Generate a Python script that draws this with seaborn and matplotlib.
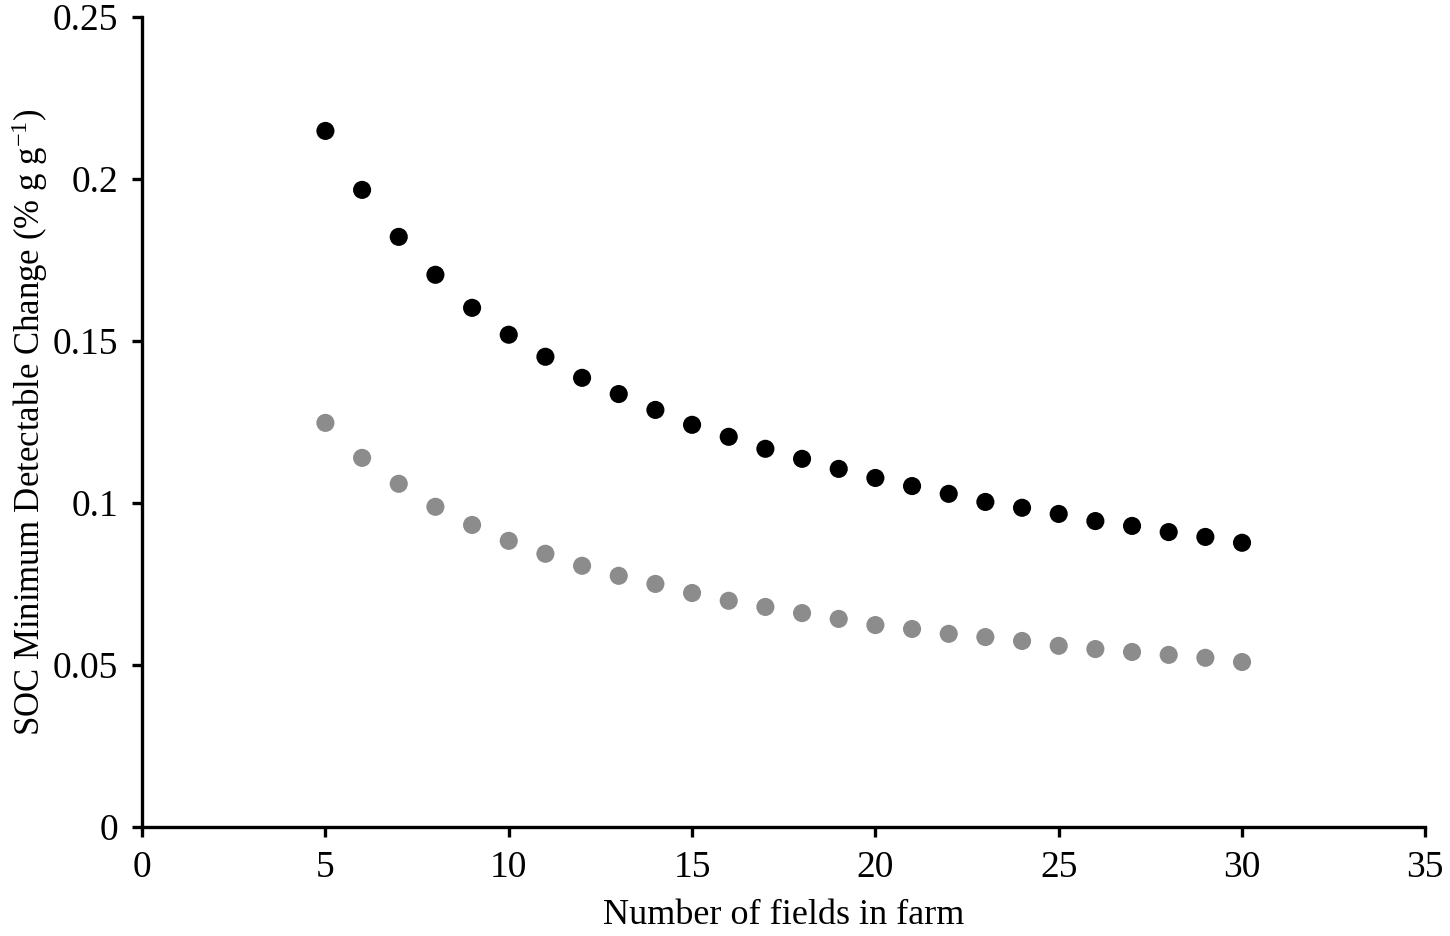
import numpy as np
import pandas as pd
import matplotlib
matplotlib.use("Agg")
import matplotlib.pyplot as plt
import seaborn as sns

# number of fields in farm
fields = list(range(5, 31))

# minimum detectable change, two series (black / gray)
mdc_black = [0.2148, 0.1966, 0.1821, 0.1704, 0.1602, 0.1519, 0.1451, 0.1386,
             0.1336, 0.1287, 0.1241, 0.1204, 0.1167, 0.1136, 0.1105, 0.1077,
             0.1052, 0.1028, 0.1003, 0.0985, 0.0966, 0.0944, 0.0929, 0.0910,
             0.0895, 0.0877]
mdc_gray = [0.1247, 0.1139, 0.1059, 0.0988, 0.0932, 0.0883, 0.0843, 0.0806,
            0.0775, 0.0750, 0.0722, 0.0698, 0.0679, 0.0660, 0.0642, 0.0623,
            0.0611, 0.0596, 0.0586, 0.0574, 0.0559, 0.0549, 0.0540, 0.0531,
            0.0522, 0.0509]

df = pd.DataFrame({
    "fields": fields * 2,
    "mdc": mdc_black + mdc_gray,
    "series": ["black"] * len(fields) + ["gray"] * len(fields),
})

sns.set_style("ticks")
plt.rcParams['font.family'] = ['Liberation Serif', 'DejaVu Serif']
plt.rcParams['mathtext.fontset'] = 'custom'
plt.rcParams['mathtext.rm'] = 'Liberation Serif'
plt.rcParams['mathtext.it'] = 'Liberation Serif'
plt.rcParams['text.color'] = 'black'
plt.rcParams['axes.labelcolor'] = 'black'

fig = plt.figure(figsize=(14.5, 9.36), dpi=100)
ax = fig.add_axes([0.098, 0.1165, 0.885, 0.8655])

sns.scatterplot(data=df, x="fields", y="mdc", hue="series",
                palette={"black": "#000000", "gray": "#8c8c8c"},
                s=170, linewidth=0, legend=False, ax=ax)

ax.set_xlim(0, 35)
ax.set_ylim(0, 0.25)
ax.set_xticks(range(0, 36, 5))
ax.set_yticks([0, 0.05, 0.1, 0.15, 0.2, 0.25])
ax.set_yticklabels(["0", "0.05", "0.1", "0.15", "0.2", "0.25"])

for side in ["top", "right"]:
    ax.spines[side].set_visible(False)
for side in ["left", "bottom"]:
    ax.spines[side].set_linewidth(2.4)
    ax.spines[side].set_color("black")
ax.tick_params(axis="both", width=2.4, length=7, labelsize=27, pad=10,
               color="black", labelcolor="black")

ax.set_xlabel("Number of fields in farm", fontsize=26, labelpad=10)
ax.set_ylabel("SOC Minimum Detectable Change (% g g$^{\\mathrm{-1}}$)",
              fontsize=25, labelpad=2)

fig.savefig("out.png", dpi=100)
